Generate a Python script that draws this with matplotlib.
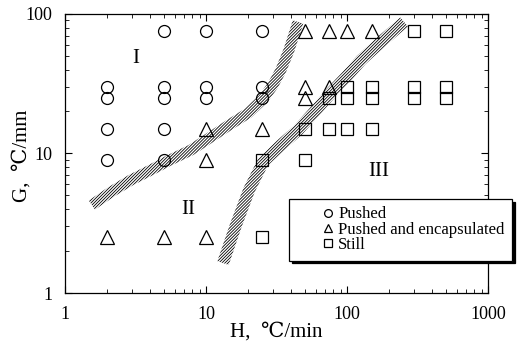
import numpy as np
import matplotlib
matplotlib.use("Agg")
import matplotlib.pyplot as plt

plt.rcParams['font.family'] = ['Liberation Serif', 'DejaVu Serif']
plt.rcParams['hatch.linewidth'] = 0.6

# points (H in C/min, G in C/mm)
pushed_h = [2, 2, 2, 2, 5, 5, 5, 5, 5, 10, 10, 10, 25, 25, 25]
pushed_g = [30, 25, 15, 9, 75, 30, 25, 15, 9, 75, 30, 25, 75, 30, 25]

encap_h = [2, 5, 10, 10, 10, 25, 50, 50, 50, 75, 75, 100, 150]
encap_g = [2.5, 2.5, 15, 9, 2.5, 15, 75, 30, 25, 75, 30, 75, 75]

still_h = [25, 25, 50, 50, 75, 75, 100, 100, 100, 150, 150, 150, 300, 300, 300, 500, 500, 500]
still_g = [9, 2.5, 15, 9, 25, 15, 30, 25, 15, 30, 25, 15, 75, 30, 25, 75, 30, 25]

# boundaries between regions (centre lines of the hatched bands)
band1_h = [1.55, 2.12, 2.94, 4.07, 5.38, 7.83, 10.3, 15.0, 19.9, 25.4, 29.9, 34.0, 38.8, 44.9]
band1_g = [4.27, 5.30, 6.46, 7.62, 8.84, 10.6, 12.7, 16.3, 19.5, 24.6, 31.0, 39.7, 55.2, 87.7]
band2_h = [13.2, 16.3, 20.2, 25.4, 34.0, 44.9, 60.3, 77.0, 98.4, 126, 174, 254]
band2_g = [1.64, 3.07, 5.47, 8.69, 11.5, 14.7, 20.5, 27.2, 35.3, 46.8, 63.0, 87.7]

regions = ["I", "II", "III"]
region_h = [3.2, 7.45, 169]
region_g = [48, 3.94, 7.4]


def hatched_band(ax, xs, ys, half=5.5):
    pts = ax.transData.transform(np.column_stack([xs, ys]))
    d = np.gradient(pts, axis=0)
    nrm = np.column_stack([-d[:, 1], d[:, 0]])
    nrm /= np.linalg.norm(nrm, axis=1)[:, None]
    poly = np.vstack([pts + nrm * half, (pts - nrm * half)[::-1]])
    poly = ax.transData.inverted().transform(poly)
    ax.fill(poly[:, 0], poly[:, 1], facecolor='none', edgecolor='black',
            hatch='/' * 11, linewidth=0)


fig = plt.figure(figsize=(5.21, 3.47), dpi=100)
ax = fig.add_axes([0.1248, 0.1556, 0.8119, 0.8041])
ax.set_xscale('log')
ax.set_yscale('log')
ax.set_xlim(1, 1000)
ax.set_ylim(1, 100)

mk = dict(linestyle='none', markerfacecolor='none', markeredgecolor='black', markeredgewidth=0.9)
ax.plot(pushed_h, pushed_g, marker='o', markersize=8.6, label='Pushed', **mk)
ax.plot(encap_h, encap_g, marker='^', markersize=9.5, label='Pushed and encapsulated', **mk)
ax.plot(still_h, still_g, marker='s', markersize=8.4, label='Still', **mk)

hatched_band(ax, band1_h, band1_g)
hatched_band(ax, band2_h, band2_g, half=6)

for r, x, y in zip(regions, region_h, region_g):
    ax.text(x, y, r, fontsize=15, ha='center', va='center')

ax.tick_params(which='both', direction='in', top=True, right=True, labelsize=13, pad=9)
ax.tick_params(which='major', length=5, width=0.8)
ax.tick_params(which='minor', length=3, width=0.6)
ax.set_xticks([1, 10, 100, 1000], ['1', '10', '100', '1000'])
ax.set_yticks([1, 10, 100], ['1', '10', '100'])
for s in ax.spines.values():
    s.set_linewidth(0.9)

ax.set_xlabel('H,  ℃/min', fontsize=15)
ax.set_ylabel('G,  ℃/mm', fontsize=15)
ax.xaxis.set_label_coords(0.5, -0.105)
ax.yaxis.set_label_coords(-0.078, 0.49)

leg = ax.legend(loc='upper left', bbox_to_anchor=(0.5296, 0.337), borderaxespad=0,
                fontsize=12, handlelength=3.8, handletextpad=-1.3, labelspacing=-0.04,
                borderpad=0.45, markerscale=0.65, fancybox=False, edgecolor='black',
                shadow={'color': 'black', 'alpha': 1})
leg.get_frame().set_linewidth(0.9)

fig.savefig('out.png', dpi=100)
